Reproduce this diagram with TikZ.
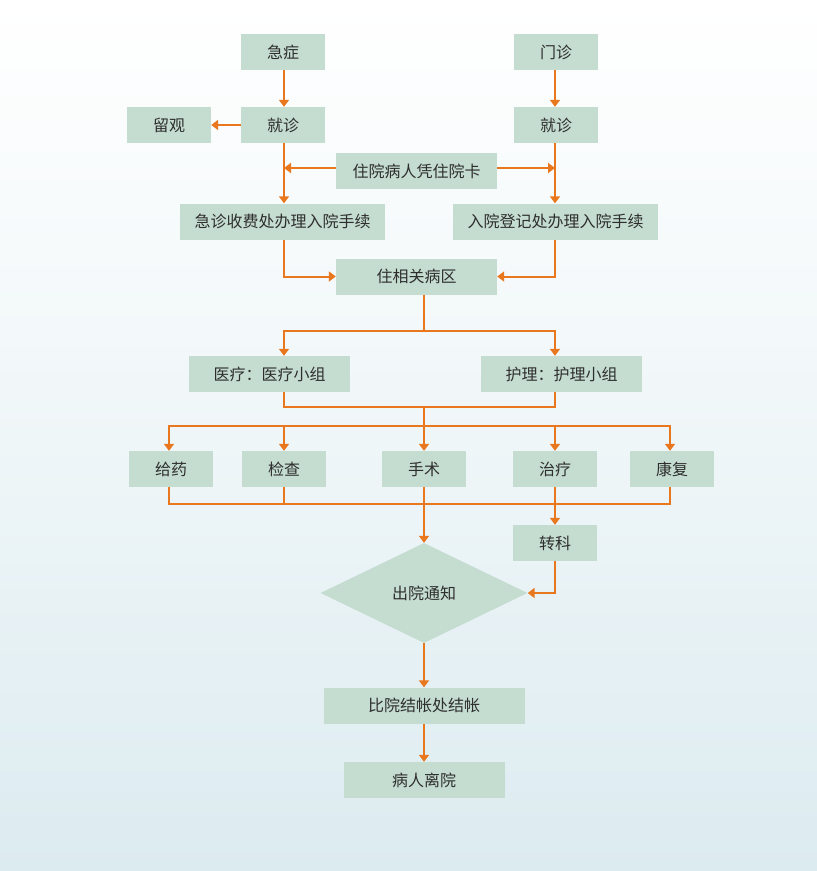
\documentclass[tikz,border=0pt]{standalone}
\usepackage{fontspec}
\newfontfamily\cjk{Noto Sans CJK SC}
\usetikzlibrary{arrows.meta,shapes.geometric}
\definecolor{boxfill}{HTML}{C5DDD0}
\definecolor{lineor}{HTML}{E8771E}
\definecolor{txt}{HTML}{2E2E2E}
\definecolor{bgbot}{HTML}{DCEBF0}
\tikzset{
  box/.style={fill=boxfill, inner sep=0pt, minimum height=36pt, minimum width=84pt,
    font=\cjk\fontsize{16}{18}\selectfont, text=txt},
  wbox/.style={box, minimum width=161pt},
  xwbox/.style={box, minimum width=205pt},
  conn/.style={draw=lineor, line width=2pt},
  arr/.style={conn, -{Triangle[width=10pt,length=7pt]}},
}
\begin{document}
\begin{tikzpicture}[x=1pt,y={(0,-1pt)}]
\useasboundingbox (0,0) rectangle (817,871);
\shade[top color=white, bottom color=bgbot, middle color=white!55!bgbot] (0,0) rectangle (817,871);

% coordinates for lines
\coordinate (xL) at (284,0);
\coordinate (xR) at (555,0);
\coordinate (b1) at (424,331);
\coordinate (b2) at (424,407);
\coordinate (b3) at (424,426);
\coordinate (b4) at (424,504);

% nodes
\node[box] (jz) at (283,52) {急症};
\node[box] (mz) at (556,52) {门诊};
\node[box] (jzL) at (283,125) {就诊};
\node[box] (lg) at (169,125) {留观};
\node[box] (jzR) at (556,125) {就诊};
\node[wbox] (card) at (416.5,171) {住院病人凭住院卡};
\node[xwbox] (sfL) at (282.5,221.5) {急诊收费处办理入院手续};
\node[xwbox] (djR) at (555.5,221.5) {入院登记处办理入院手续};
\node[wbox] (bq) at (416.5,276.5) {住相关病区};
\node[wbox] (yl) at (269.5,374) {医疗：医疗小组};
\node[wbox] (hl) at (561.5,374) {护理：护理小组};
\node[box] (gy) at (171,469) {给药};
\node[box] (jc) at (284,469) {检查};
\node[box] (ss) at (424,469) {手术};
\node[box] (zl) at (555,469) {治疗};
\node[box] (kf) at (672,469) {康复};
\node[box] (zk) at (555,543) {转科};
\node[diamond, fill=boxfill, inner sep=0pt, minimum width=207pt, minimum height=100pt,
  font=\cjk\fontsize{16}{18}\selectfont, text=txt] (cx) at (424,593) {出院通知};
\node[box, minimum width=201pt] (js) at (424,705.5) {比院结帐处结帐};
\node[wbox] (ly) at (424,780) {病人离院};

% connectors
\draw[arr] (jz.south -| xL) -- (jzL.north -| xL);
\draw[arr] (mz.south -| xR) -- (jzR.north -| xR);
\draw[arr] (jzL.west) -- (lg.east);
\draw[arr] (jzL.south -| xL) -- (sfL.north -| xL);
\draw[arr] (jzR.south -| xR) -- (djR.north -| xR);
\draw[arr] ([yshift=3pt]card.west) -- ([yshift=3pt]card.west -| xL);
\draw[arr] ([yshift=3pt]card.east) -- ([yshift=3pt]card.east -| xR);
\draw[arr] (sfL.south -| xL) |- (bq.west);
\draw[arr] (djR.south -| xR) |- (bq.east);

\draw[conn] (bq.south -| b1) -- (b1);
\draw[arr] (b1) -| (yl.north -| xL);
\draw[arr] (b1) -| (hl.north -| xR);
\draw[conn] (yl.south -| xL) |- (b2) -| (hl.south -| xR);
\draw[conn] (b2) -- (b3);
\draw[arr] (b3) -| ([xshift=-2pt]gy.north);
\draw[arr] (b3) -| (jc.north);
\draw[arr] (b3) -- (ss.north);
\draw[arr] (b3) -| (zl.north);
\draw[arr] (b3) -| ([xshift=-2pt]kf.north);

\draw[conn] ([xshift=-2pt]gy.south) |- (b4);
\draw[conn] ([xshift=-2pt]kf.south) |- (b4);
\draw[conn] (jc.south) -- (jc.south |- b4);
\draw[arr] (ss.south) -- (cx.north);
\draw[arr] (zl.south) -- (zk.north);
\draw[arr] (zk.south) |- (cx.east);
\draw[arr] (cx.south) -- (js.north);
\draw[arr] (js.south) -- (ly.north);
\end{tikzpicture}
\end{document}
